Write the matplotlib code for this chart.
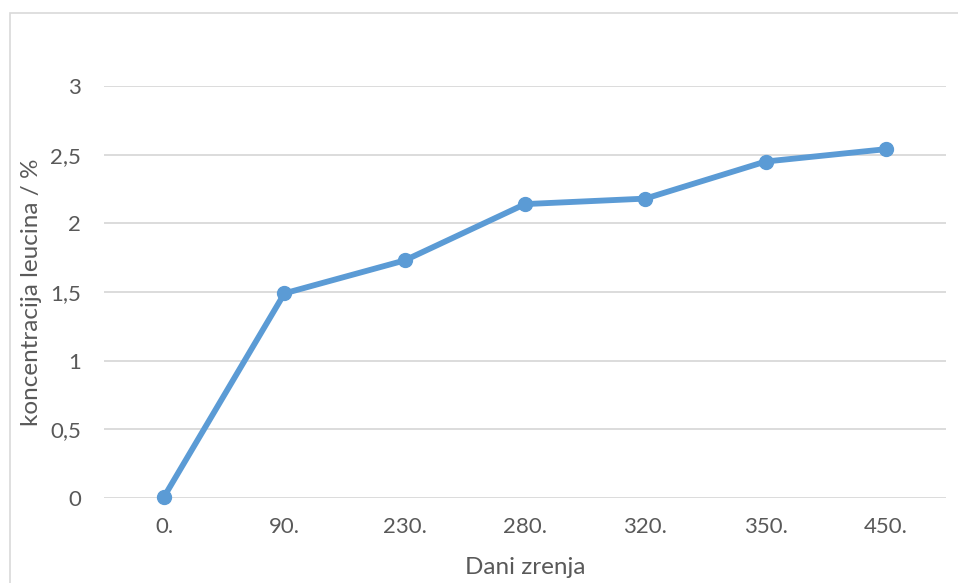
import matplotlib.pyplot as plt
from matplotlib.patches import Rectangle

days = ['0.', '90.', '230.', '280.', '320.', '350.', '450.']
leucine = [0.01, 1.49, 1.73, 2.14, 2.18, 2.45, 2.54]
y_ticks = [0, 0.5, 1, 1.5, 2, 2.5, 3]
y_labels = ['0', '0,5', '1', '1,5', '2', '2,5', '3']

text_color = '#595959'
grid_color = '#D9D9D9'
line_color = '#5B9BD5'

plt.rcParams['font.family'] = ['Lato', 'DejaVu Sans']

fig = plt.figure(figsize=(9.58, 5.83), dpi=100)
ax = fig.add_axes([104 / 958, 1 - 498 / 583, (946 - 104) / 958, (498 - 86) / 583])

# chart border (cut off at right and bottom like the screenshot)
fig.patches.append(Rectangle((10 / 958, -0.1), 1.1, 1 - 13 / 583 + 0.1,
                             transform=fig.transFigure, fill=False,
                             edgecolor=grid_color, linewidth=1.2))

x = list(range(len(days)))
ax.plot(x, leucine, color=line_color, linewidth=4.2, marker='o',
        markersize=10, solid_capstyle='round', zorder=3, clip_on=False)

ax.set_xlim(-0.5, len(days) - 0.5)
ax.set_ylim(0, 3)
ax.set_xticks(x)
ax.set_xticklabels(days)
ax.set_yticks(y_ticks)
ax.set_yticklabels(y_labels)

ax.grid(axis='y', color=grid_color, linewidth=1.3)
ax.set_axisbelow(True)
for s in ax.spines.values():
    s.set_visible(False)
ax.tick_params(length=0, colors=text_color, labelsize=16)
ax.tick_params(axis='y', pad=16.5)
ax.tick_params(axis='x', pad=14)

ax.set_xlabel('Dani zrenja', color=text_color, fontsize=17.5)
ax.set_ylabel('koncentracija leucina / %', color=text_color, fontsize=17.5)
ax.xaxis.set_label_coords(0.5, -(568 - 498) / 412)
ax.xaxis.label.set_va('center')
ax.yaxis.set_label_coords(-(104 - 32) / 842, 0.5)
ax.yaxis.label.set_va('center')

fig.savefig('out.png', dpi=100)
